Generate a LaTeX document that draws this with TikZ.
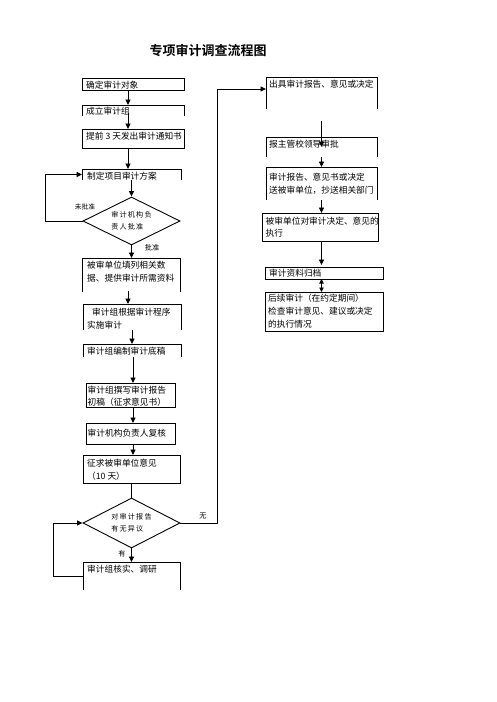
\documentclass[tikz,border=0pt]{standalone}
\usepackage{fontspec}
\setmainfont{Noto Sans CJK SC}[BoldFont={Noto Sans CJK SC Bold}]
\usetikzlibrary{arrows.meta,shapes.geometric,calc}
\newcommand\myopen[1]{\draw[edge] (#1.south west) -- (#1.north west) -- (#1.north east) -- (#1.south east);}
\begin{document}
\begin{tikzpicture}[x=1pt,y=-1pt,
  edge/.style={line width=0.9pt, black},
  box/.style={rectangle, anchor=north west, inner sep=0pt, outer sep=0pt},
  fullbox/.style={box, draw, line width=0.9pt},
  txt/.style={anchor=north west, inner sep=0pt, align=left, font=\fontsize{8.7}{12.8}\selectfont},
  dia/.style={diamond, draw, line width=0.9pt, inner sep=0pt, aspect=2, align=left, font=\fontsize{7.1}{11.5}\selectfont},
  lbl/.style={inner sep=0pt, font=\fontsize{7.2}{8}\selectfont},
  arr/.style={line width=0.9pt, -{Triangle[length=5.5pt,width=5pt]}},
  darr/.style={line width=0.9pt, {Triangle[length=4.5pt,width=4.5pt]}-{Triangle[length=4.5pt,width=4.5pt]}}
]
\fill[white] (0,0) rectangle (496,702);
\useasboundingbox (0,0) rectangle (496,702);

% title
\node[inner sep=0pt, font=\fontsize{13}{15}\selectfont\bfseries] (title) at (208,51) {专项审计调查流程图};

% helper coordinates for connector columns
\coordinate (cA) at (128,0);
\coordinate (cB) at (132,0);
\coordinate (cC) at (133,0);
\coordinate (l1) at (45,0);
\coordinate (l2) at (53,0);
\coordinate (l3) at (217,0);

% ---------- left column ----------
\node[fullbox, minimum width=102pt, minimum height=12pt] (b1) at (82,78) {};
\node[txt] (t1) at ([shift={(4pt,-2.5pt)}]b1.north west) {确定审计对象};

\node[box, minimum width=102pt, minimum height=11pt] (b2) at (82,105) {};
\myopen{b2}
\node[txt] (t2) at ([shift={(4pt,-2pt)}]b2.north west) {成立审计组};

\node[fullbox, minimum width=102pt, minimum height=19pt] (b3) at (82,129) {};
\node[txt] (t3) at ([shift={(4pt,-3pt)}]b3.north west) {提前 3 天发出审计通知书};

\node[box, minimum width=99pt, minimum height=11pt] (b4) at (82,169) {};
\myopen{b4}
\node[txt] (t4) at ([shift={(5pt,-2.5pt)}]b4.north west) {制定项目审计方案};

\node[dia, minimum width=97pt, minimum height=48pt] (d1) at (131.5,221) {审\,计\,机\,构\,负\\责\,人\,批\,准};

\node[box, minimum width=98pt, minimum height=34pt] (b5) at (82,258) {};
\myopen{b5}
\node[txt] (t5) at ([shift={(5pt,-3pt)}]b5.north west) {被审单位填列相关数\\据、提供审计所需资料};

\node[box, minimum width=98pt, minimum height=26pt] (b6) at (83,304) {};
\myopen{b6}
\node[txt] (t6) at ([shift={(4pt,-4pt)}]b6.north west) {\hspace*{5pt}审计组根据审计程序\\实施审计};

\node[box, minimum width=98pt, minimum height=13pt] (b7) at (83,344) {};
\myopen{b7}
\node[txt] (t7) at ([shift={(4pt,-3pt)}]b7.north west) {审计组编制审计底稿};

\node[fullbox, minimum width=89pt, minimum height=24pt] (b8) at (86,383) {};
\node[txt] (t8) at ([shift={(1.5pt,-2.5pt)}]b8.north west) {审计组撰写审计报告\\初稿（征求意见书）};

\node[fullbox, minimum width=89pt, minimum height=21pt] (b9) at (86,423) {};
\node[txt] (t9) at ([shift={(1.5pt,-5.5pt)}]b9.north west) {审计机构负责人复核};

\node[fullbox, minimum width=97pt, minimum height=28pt] (b10) at (83,455) {};
\node[txt] (t10) at ([shift={(4pt,-4pt)}]b10.north west) {征求被审单位意见\\（10 天）};

\node[dia, minimum width=97pt, minimum height=50pt] (d2) at (131.5,523) {对\,审\,计\,报\,告\\有\,无\,异\,议};

\node[box, minimum width=97pt, minimum height=28pt] (b11) at (83,562) {};
\myopen{b11}
\node[txt] (t11) at ([shift={(4pt,-3pt)}]b11.north west) {审计组核实、调研};

% ---------- right column ----------
\node[box, minimum width=111pt, minimum height=32pt] (r1) at (266,77) {};
\myopen{r1}
\node[txt] (tr1) at ([shift={(3pt,-3pt)}]r1.north west) {出具审计报告、意见或决定};

\node[box, minimum width=111pt, minimum height=20pt] (r2) at (266,137) {};
\myopen{r2}
\node[txt] (tr2) at ([shift={(3pt,-2.5pt)}]r2.north west) {报主管校领导审批};

\node[box, minimum width=111pt, minimum height=33pt] (r3) at (266,167) {};
\myopen{r3}
\node[txt] (tr3) at ([shift={(3pt,-6pt)}]r3.north west) {审计报告、意见书或决定\\送被审单位，抄送相关部门};

\node[fullbox, minimum width=116pt, minimum height=28pt] (r4) at (262,213) {};
\node[txt] (tr4) at ([shift={(3.5pt,-3.5pt)}]r4.north west) {被审单位对审计决定、意见的\\执行};

\node[fullbox, minimum width=118pt, minimum height=12pt] (r5) at (265,267) {};
\node[txt] (tr5) at ([shift={(4pt,-2pt)}]r5.north west) {审计资料归档};

\node[fullbox, minimum width=118pt, minimum height=39pt] (r6) at (265,292) {};
\node[txt] (tr6) at ([shift={(3pt,-2pt)}]r6.north west) {后续审计（在约定期间）\\检查审计意见、建议或决定\\的执行情况};

% ---------- labels ----------
\node[lbl, font=\fontsize{6.7}{8}\selectfont] (n1) at (85,207) {未批准};
\node[lbl] (n2) at (152,248) {批准};
\node[lbl] (n3) at (203,516) {无};
\node[lbl] (n4) at (122,554) {有};

% ---------- connectors ----------
\draw[arr] (b1.south -| cA) -- (b2.north -| cA);
\draw[arr] ([yshift=3pt]b2.south -| cA) -- (b3.north -| cA);
\draw[arr] (b3.south -| cA) -- (b4.north -| cA);
\draw[arr] (b4.south -| d1.north) -- (d1.north);
\draw[arr] (d1.south) -- (b5.north -| d1.south);
\draw[arr] ([yshift=1pt]b5.south -| cA) -- (b6.north -| cA);
\draw[arr] (b6.south -| cB) -- (b7.north -| cB);
\draw[arr] (b7.south -| cC) -- (b8.north -| cC);
\draw[arr] (b8.south -| cC) -- (b9.north -| cC);
\draw[arr] (b9.south -| cC) -- (b10.north -| cC);
\draw[edge] (b10.south) -- (d2.north);
\draw[arr] (d2.south) -- (b11.north -| d2.south);

\draw[arr] (d1.west) -| (l1 |- b4.west) -- (b4.west);
\draw[arr] (b11.west) -| (l2 |- d2.west) -- (d2.west);
\draw[arr] (d2.east) -- (d2.east -| l3) |- ([yshift=4pt]r1.west);

\draw[arr] ([yshift=-12pt]r1.south) -- ([yshift=-10pt]r2.north);
\draw[arr] (r2.south) -- (r3.north);
\draw[arr] (r3.south) -- (r4.north -| r3.south);
\draw[arr] (r4.south -| r3.south) -- ([yshift=2pt]r5.north -| r3.south);
\draw[darr] (r5.south -| r3.south) -- (r6.north -| r3.south);
\end{tikzpicture}
\end{document}
